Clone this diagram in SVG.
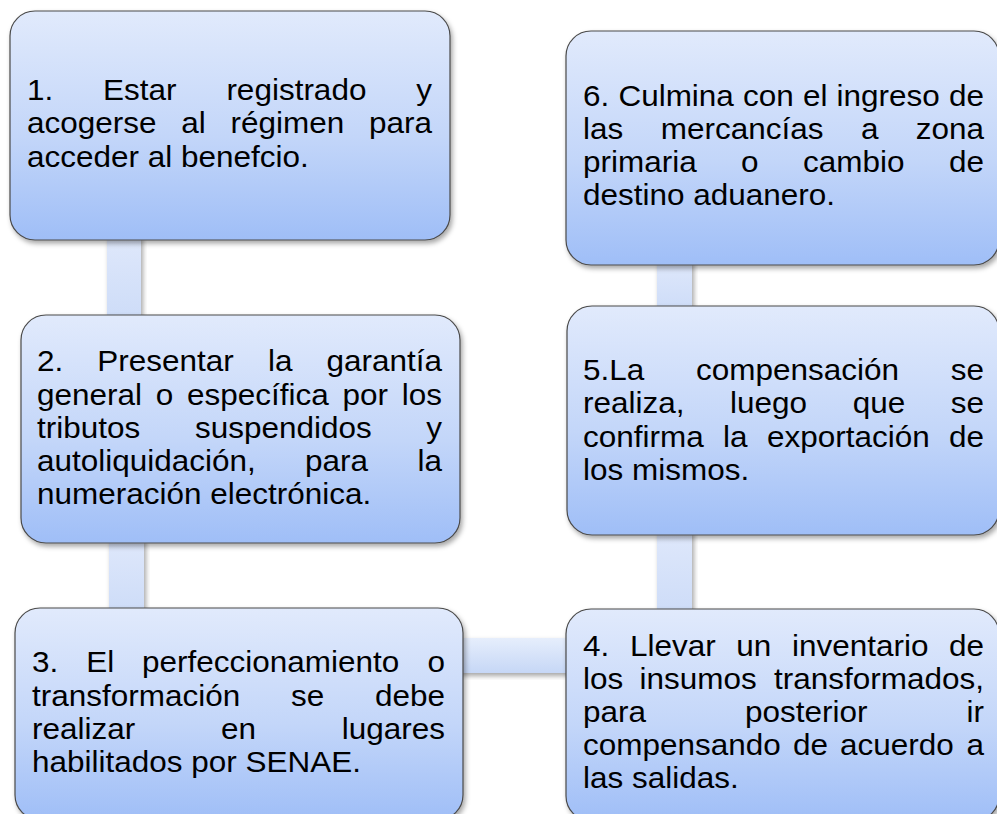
<svg xmlns="http://www.w3.org/2000/svg" width="997" height="814" viewBox="0 0 997 814">
<defs>
<linearGradient id="boxGrad" x1="0" y1="0" x2="0" y2="1">
<stop offset="0" stop-color="#e1eafc"/>
<stop offset="0.55" stop-color="#c3d6f9"/>
<stop offset="1" stop-color="#9fbef7"/>
</linearGradient>
<linearGradient id="conGradV" x1="0" y1="0" x2="0" y2="1">
<stop offset="0" stop-color="#dfe8fb"/>
<stop offset="1" stop-color="#cddcf8"/>
</linearGradient>
<linearGradient id="conGradH" x1="0" y1="0" x2="0" y2="1">
<stop offset="0" stop-color="#e6eefc"/>
<stop offset="1" stop-color="#c6d7f6"/>
</linearGradient>
<filter id="shadow" x="-10%" y="-10%" width="125%" height="130%">
<feDropShadow dx="2" dy="3" stdDeviation="2.5" flood-color="#000" flood-opacity="0.35"/>
</filter>
</defs>
<style>
.box{fill:url(#boxGrad);stroke:#4a4a4a;stroke-width:1.2;filter:url(#shadow)}
.conv{fill:url(#conGradV);filter:url(#shadow)}
.conh{fill:url(#conGradH);filter:url(#shadow)}
text{font-family:"Liberation Sans",Arial,sans-serif;font-size:29px;fill:#000}
.e{text-anchor:end}
.t{transform:scale(1.086,1)}
</style>
<rect width="997" height="814" fill="#ffffff"/>
<g id="connectors">
<rect class="conv" x="107" y="235" width="34" height="85"/>
<rect class="conv" x="109" y="538" width="35" height="75"/>
<rect class="conh" x="458" y="638" width="113" height="35"/>
<rect class="conv" x="657" y="530" width="35" height="84"/>
<rect class="conv" x="657" y="260" width="35" height="51"/>
</g>
<g id="node1">
<rect class="box" x="10" y="11" width="440" height="229" rx="25"/>
<g class="t">
<text x="24.86" y="100">1.</text><text x="94.94" y="100">Estar</text><text x="208.47" y="100">registrado</text><text class="e" x="397.79" y="100">y</text>
<text x="24.86" y="133.3">acogerse</text><text x="166.94" y="133.3">al</text><text x="212.25" y="133.3">régimen</text><text class="e" x="397.79" y="133.3">para</text>
<text x="24.86" y="166.7">acceder al benefcio.</text>
</g>
</g>
<g id="node2">
<rect class="box" x="21" y="315" width="439" height="228" rx="25"/>
<g class="t">
<text x="34.07" y="371.5">2.</text><text x="89.59" y="371.5">Presentar</text><text x="246.69" y="371.5">la</text><text class="e" x="407" y="371.5">garantía</text>
<text x="34.07" y="404.7">general</text><text x="143.46" y="404.7">o</text><text x="172.19" y="404.7">específica</text><text x="315.38" y="404.7">por</text><text class="e" x="407" y="404.7">los</text>
<text x="34.07" y="437.9">tributos</text><text x="179.47" y="437.9">suspendidos</text><text class="e" x="407" y="437.9">y</text>
<text x="34.07" y="471.1">autoliquidación,</text><text x="280.94" y="471.1">para</text><text class="e" x="407" y="471.1">la</text>
<text x="34.07" y="504.3">numeración electrónica.</text>
</g>
</g>
<g id="node3">
<rect class="box" x="15" y="608" width="448" height="212" rx="25"/>
<g class="t">
<text x="29.47" y="672.5">3.</text><text x="79.37" y="672.5">El</text><text x="130.85" y="672.5">perfeccionamiento</text><text class="e" x="409.76" y="672.5">o</text>
<text x="29.47" y="705.6">transformación</text><text x="267.96" y="705.6">se</text><text class="e" x="409.76" y="705.6">debe</text>
<text x="29.47" y="738.7">realizar</text><text x="203.5" y="738.7">en</text><text class="e" x="409.76" y="738.7">lugares</text>
<text x="29.47" y="771.8">habilitados por SENAE.</text>
</g>
</g>
<g id="node4">
<rect class="box" x="566" y="609" width="433" height="212" rx="25"/>
<g class="t">
<text x="536.83" y="656">4.</text><text x="580.02" y="656">Llevar</text><text x="678" y="656">un</text><text x="729.19" y="656">inventario</text><text class="e" x="906.08" y="656">de</text>
<text x="536.83" y="689.1">los</text><text x="588.86" y="689.1">insumos</text><text class="e" x="906.08" y="689.1">transformados,</text>
<text x="536.83" y="722.2">para</text><text x="686" y="722.2">posterior</text><text class="e" x="906.08" y="722.2">ir</text>
<text x="536.83" y="755.3">compensando</text><text x="730.2" y="755.3">de</text><text x="773.48" y="755.3">acuerdo</text><text class="e" x="906.08" y="755.3">a</text>
<text x="536.83" y="788.4">las salidas.</text>
</g>
</g>
<g id="node5">
<rect class="box" x="567" y="306" width="432" height="229" rx="25"/>
<g class="t">
<text x="536.83" y="380">5.La</text><text x="640.79" y="380">compensación</text><text class="e" x="906.08" y="380">se</text>
<text x="536.83" y="413.3">realiza,</text><text x="672.28" y="413.3">luego</text><text x="785.17" y="413.3">que</text><text class="e" x="906.08" y="413.3">se</text>
<text x="536.83" y="446.6">confirma</text><text x="665.84" y="446.6">la</text><text x="706.17" y="446.6">exportación</text><text class="e" x="906.08" y="446.6">de</text>
<text x="536.83" y="479.9">los mismos.</text>
</g>
</g>
<g id="node6">
<rect class="box" x="566" y="31" width="433" height="234" rx="25"/>
<g class="t">
<text x="536.83" y="106.5">6.</text><text x="569.43" y="106.5">Culmina</text><text x="684.16" y="106.5">con</text><text x="739.32" y="106.5">el</text><text x="770.26" y="106.5">ingreso</text><text class="e" x="906.08" y="106.5">de</text>
<text x="536.83" y="139.5">las</text><text x="608.38" y="139.5">mercancías</text><text x="792.73" y="139.5">a</text><text class="e" x="906.08" y="139.5">zona</text>
<text x="536.83" y="172.5">primaria</text><text x="682.41" y="172.5">o</text><text x="739.41" y="172.5">cambio</text><text class="e" x="906.08" y="172.5">de</text>
<text x="536.83" y="205.5">destino aduanero.</text>
</g>
</g>
</svg>
